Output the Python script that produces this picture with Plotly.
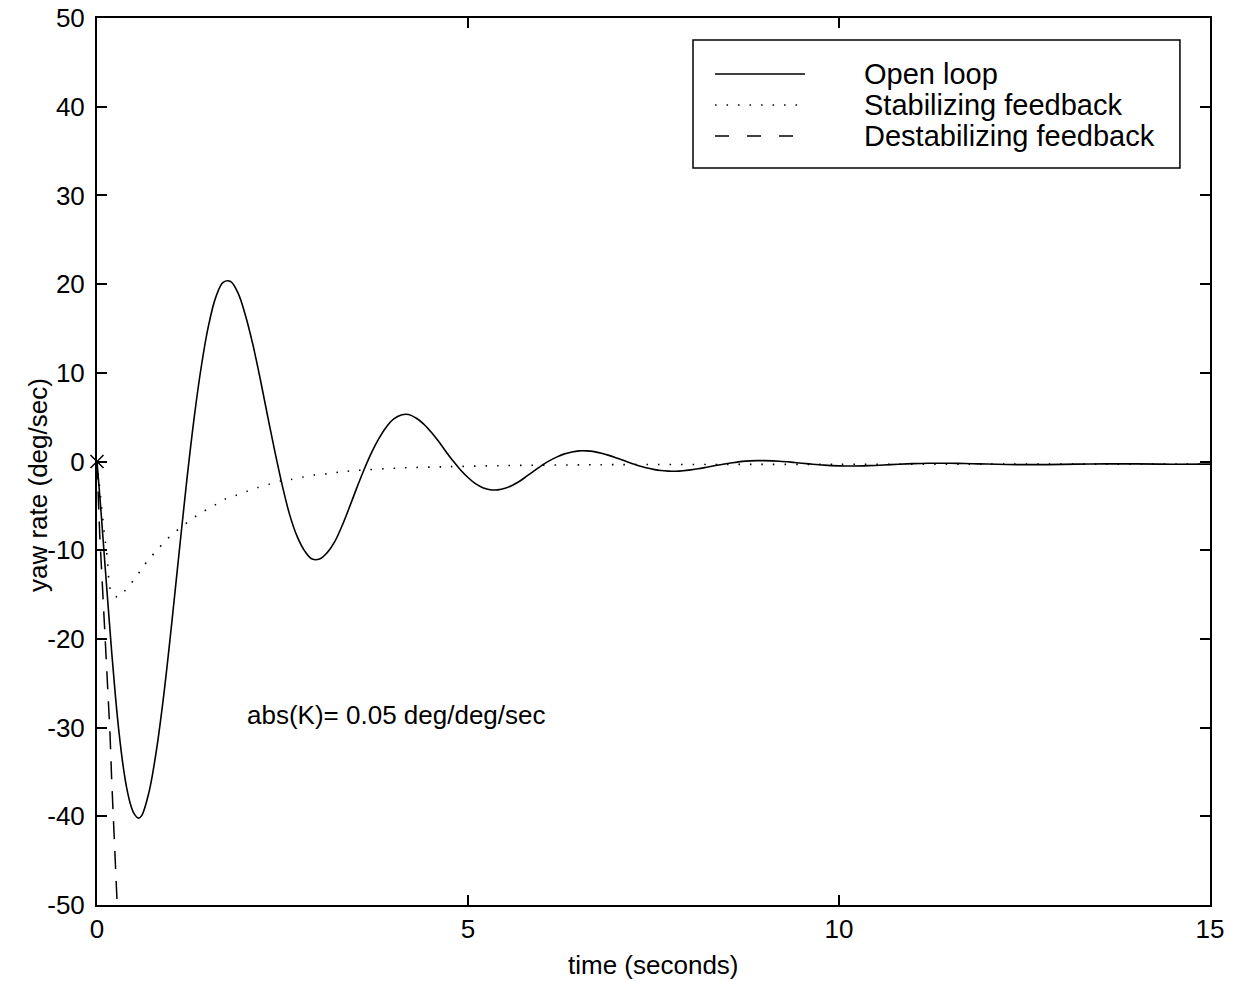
import plotly.graph_objects as go

# ---- data (yaw rate, deg/sec, vs time, s) ----
open_t = [0, 0.05, 0.1, 0.15, 0.2, 0.25, 0.3, 0.35, 0.4, 0.45, 0.5, 0.557,
          0.6, 0.7, 0.8, 0.9, 1.0, 1.1, 1.2, 1.3, 1.4, 1.5, 1.6, 1.7, 1.8, 1.9,
          2.0, 2.1, 2.2, 2.3, 2.4, 2.5, 2.6, 2.7, 2.8, 2.9, 3.0, 3.1, 3.2, 3.3,
          3.4, 3.5, 3.6, 3.7, 3.8, 3.9, 4.0, 4.1, 4.2, 4.3, 4.4, 4.5, 4.6, 4.7,
          4.8, 4.9, 5.0, 5.1, 5.2, 5.3, 5.4, 5.5, 5.6, 5.7, 5.8, 5.9, 6.0, 6.1,
          6.2, 6.3, 6.4, 6.5, 6.6, 6.7, 6.8, 6.9, 7.0, 7.1, 7.2, 7.3, 7.4, 7.5,
          7.6, 7.7, 7.8, 7.9, 8.0, 8.1, 8.2, 8.3, 8.4, 8.5, 8.6, 8.7, 8.8, 8.9,
          9.0, 9.2, 9.4, 9.6, 9.8, 10.0, 10.2, 10.4, 10.6, 10.8, 11.0, 11.2, 11.4,
          11.6, 11.8, 12.0, 12.4, 12.8, 13.2, 13.6, 14.0, 14.5, 15.0]
open_y = [0, -5.2, -10.8, -16.3, -21.7, -26.6, -30.8, -34.2, -36.8, -38.6, -39.7, -40.2,
          -39.95, -37.3, -32.6, -26.3, -18.8, -10.8, -2.9, 4.3, 10.4, 15.2, 18.5, 20.2, 20.3, 19.0,
          16.5, 13.2, 9.3, 5.1, 1.0, -2.8, -6.1, -8.5, -10.1, -11.0, -11.0, -10.3, -9.1, -7.3,
          -5.2, -3.0, -0.9, 1.0, 2.6, 3.9, 4.8, 5.25, 5.3, 4.9, 4.25, 3.35, 2.3, 1.15,
          0.05, -0.95, -1.8, -2.5, -2.95, -3.19, -3.2, -3.02, -2.67, -2.2, -1.6, -1.0, -0.4, 0.1,
          0.52, 0.86, 1.08, 1.2, 1.2, 1.11, 0.93, 0.69, 0.4, 0.1, -0.2, -0.48, -0.71, -0.89,
          -1.02, -1.08, -1.1, -1.04, -0.94, -0.82, -0.67, -0.51, -0.36, -0.22, -0.1, 0.01, 0.07, 0.1,
          0.1, 0.03, -0.11, -0.27, -0.41, -0.49, -0.51, -0.47, -0.4, -0.31, -0.24, -0.2, -0.19,
          -0.21, -0.25, -0.29, -0.35, -0.35, -0.3, -0.27, -0.27, -0.31, -0.3]

stab_t = [0, 0.05, 0.099, 0.139, 0.162, 0.198, 0.296, 0.409, 0.512, 0.602, 0.70, 0.809,
          0.916, 1.03, 1.155, 1.29, 1.42, 1.57, 1.71, 1.86, 2.01, 2.16, 2.32, 2.48, 2.63,
          2.79, 2.95, 3.12, 3.28, 3.45, 4.08, 4.76, 5.43, 6.78, 8.5, 10.0, 12.0, 15.0]
stab_y = [0, -4.2, -8.1, -10.9, -13.5, -14.9, -15.3, -14.2, -13.2, -12.1, -11.0, -10.0,
          -9.0, -8.1, -7.27, -6.4, -5.7, -5.0, -4.3, -3.86, -3.4, -2.95, -2.57, -2.2, -2.0,
          -1.75, -1.5, -1.37, -1.18, -1.04, -0.73, -0.58, -0.47, -0.36, -0.33, -0.32, -0.3, -0.3]

destab_t = [0, 0.018, 0.036, 0.099, 0.121, 0.153, 0.175, 0.198, 0.22, 0.265, 0.285]
destab_y = [0, -4.3, -8.1, -18.2, -22.0, -26.1, -30.6, -35.9, -40.8, -48.6, -52.0]

x_ticks = [0, 5, 10, 15]
y_ticks = [-50, -40, -30, -20, -10, 0, 10, 20, 30, 40, 50]

legend_names = ["Open loop", "Stabilizing feedback", "Destabilizing feedback"]
note_text = "abs(K)= 0.05 deg/deg/sec"
x_title = "time (seconds)"
y_title = "yaw rate (deg/sec)"

FONT = "Liberation Sans, Arial, Helvetica, sans-serif"
FS = 26
FS_LEG = 29

fig = go.Figure()
fig.add_trace(go.Scatter(x=open_t, y=open_y, mode="lines", name=legend_names[0],
                         line=dict(color="black", width=1.6, shape="spline", smoothing=1.0)))
fig.add_trace(go.Scatter(x=stab_t, y=stab_y, mode="lines", name=legend_names[1],
                         line=dict(color="black", width=1.6, dash="1.5px,10px",
                                   shape="spline", smoothing=0.8)))
fig.add_trace(go.Scatter(x=destab_t, y=destab_y, mode="lines", name=legend_names[2],
                         line=dict(color="black", width=1.5, dash="18px,12px")))
fig.add_trace(go.Scatter(x=[open_t[0]], y=[open_y[0]], mode="markers", showlegend=False,
                         cliponaxis=False,
                         marker=dict(symbol="x-thin", size=13, line=dict(color="black", width=1.5))))

axis_common = dict(showline=True, linecolor="black", linewidth=2, mirror="ticks",
                   ticks="inside", ticklen=10, tickwidth=1.5, tickcolor="black",
                   showgrid=False, zeroline=False, automargin=False,
                   tickfont=dict(family=FONT, size=FS, color="black"))

fig.update_xaxes(range=[0, 15], tickvals=x_ticks, ticktext=[str(v) for v in x_ticks],
                 **axis_common)
fig.update_yaxes(range=[-50, 50], tickvals=y_ticks, ticktext=[str(v) for v in y_ticks],
                 ticklabelstandoff=5, **axis_common)

# axis titles
fig.add_annotation(xref="paper", yref="paper", x=0.5004, y=-0.0676, text=x_title,
                   showarrow=False, xanchor="center", yanchor="middle",
                   font=dict(family=FONT, size=FS, color="black"))
fig.add_annotation(xref="paper", yref="paper", x=-0.0530, y=0.4735, text=y_title,
                   showarrow=False, textangle=-90, xanchor="center", yanchor="middle",
                   font=dict(family=FONT, size=FS, color="black"))

# ---- legend box drawn by hand (paper coordinates) ----
lx0, lx1, ly0, ly1 = 0.5355, 0.9730, 0.8309, 0.9752
fig.add_shape(type="rect", xref="paper", yref="paper", x0=lx0, x1=lx1, y0=ly0, y1=ly1,
              line=dict(color="black", width=1.5), fillcolor="white", layer="above")
rows = [0.9369, 0.9019, 0.8670]
dashes = ["solid", "1.5px,10px", "14px,18px"]
for name, yy, dsh in zip(legend_names, rows, dashes):
    fig.add_shape(type="line", xref="paper", yref="paper", x0=0.5553, x1=0.6361, y0=yy, y1=yy,
                  line=dict(color="black", width=1.5, dash=dsh), layer="above")
    fig.add_annotation(xref="paper", yref="paper", x=0.6873, y=yy, text=name, showarrow=False,
                       xanchor="left", yanchor="middle",
                       font=dict(family=FONT, size=FS_LEG, color="black"))

fig.add_annotation(xref="x", yref="y", x=2.0, y=-28.6, text=note_text, showarrow=False,
                   xanchor="left", yanchor="middle", font=dict(family=FONT, size=FS, color="black"))

fig.update_layout(width=1240, height=981, showlegend=False,
                  margin=dict(l=97, r=30, t=18, b=76),
                  paper_bgcolor="white", plot_bgcolor="white",
                  font=dict(family=FONT, size=FS, color="black"))

fig.write_html("out.html")
